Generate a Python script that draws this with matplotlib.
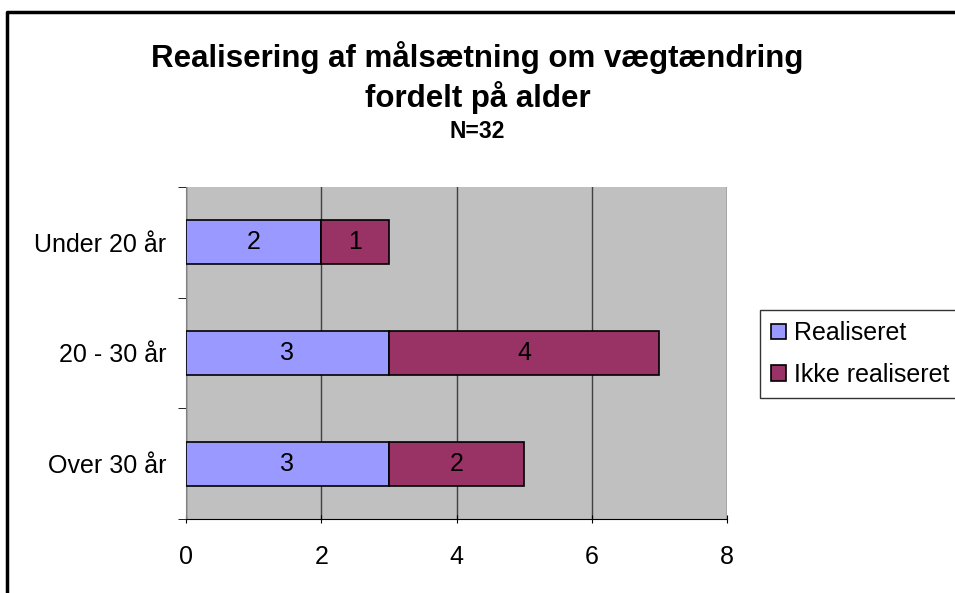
import matplotlib.pyplot as plt
import numpy as np
from matplotlib.lines import Line2D

categories = ["Under 20 år", "20 - 30 år", "Over 30 år"]
realiseret = [2, 3, 3]
ikke_realiseret = [1, 4, 2]
series_names = ["Realiseret", "Ikke realiseret"]
colors = ["#9999FF", "#993366"]

plt.rcParams["font.family"] = ["Liberation Sans", "DejaVu Sans"]

W, H = 955, 593
fig = plt.figure(figsize=(W / 100, H / 100), dpi=100)
ax = fig.add_axes([186 / W, 1 - 519 / H, (727 - 186) / W, (519 - 187) / H])

# outer chart border: only left and top edges show in the picture
fig.lines.append(Line2D([7 / W, 7 / W, 1.0], [0.0, 1 - 12 / H, 1 - 12 / H],
                        transform=fig.transFigure, color="black", linewidth=2.5))

y = np.arange(len(categories))[::-1]
h = 0.4
ax.barh(y, realiseret, height=h, color=colors[0], edgecolor="black",
        linewidth=1.2, label=series_names[0], zorder=3)
ax.barh(y, ikke_realiseret, left=realiseret, height=h, color=colors[1],
        edgecolor="black", linewidth=1.2, label=series_names[1], zorder=3)

for yi, a, b in zip(y, realiseret, ikke_realiseret):
    ax.text(a / 2, yi, str(a), ha="center", va="center", fontsize=18, zorder=4)
    ax.text(a + b / 2, yi, str(b), ha="center", va="center", fontsize=18, zorder=4)

ax.set_facecolor("#C0C0C0")
ax.set_xlim(0, 8)
ax.set_ylim(-0.5, 2.5)
ax.set_xticks([0, 2, 4, 6, 8])
ax.xaxis.grid(True, color="#404040", linewidth=1, zorder=1)
ax.set_yticks(y)
ax.set_yticklabels(categories, fontsize=18)
ax.set_yticks([-0.5, 0.5, 1.5, 2.5], minor=True)
ax.tick_params(axis="y", which="major", length=0, pad=14)
ax.tick_params(axis="y", which="minor", length=6, color="black")
ax.tick_params(axis="x", length=6, labelsize=18, pad=16, direction="inout")
for side in ["top", "right"]:
    ax.spines[side].set_visible(False)
ax.spines["left"].set_color("#808080")
ax.spines["bottom"].set_color("black")

fig.text(0.5, 1 - 57 / H, "Realisering af målsætning om vægtændring",
         ha="center", va="center", fontsize=22.5, fontweight="bold")
fig.text(0.5, 1 - 98 / H, "fordelt på alder",
         ha="center", va="center", fontsize=22.5, fontweight="bold")
fig.text(0.5, 1 - 132 / H, "N=32",
         ha="center", va="center", fontsize=16.5, fontweight="bold")

leg = fig.legend(loc="upper left", bbox_to_anchor=(760 / W, 1 - 310 / H),
                 fontsize=18, frameon=True, fancybox=False, edgecolor="black",
                 handlelength=0.6, handleheight=0.6, handletextpad=0.3,
                 borderpad=0.45, labelspacing=0.7, borderaxespad=0)
leg.get_frame().set_linewidth(1)

fig.savefig("out.png", dpi=100)
